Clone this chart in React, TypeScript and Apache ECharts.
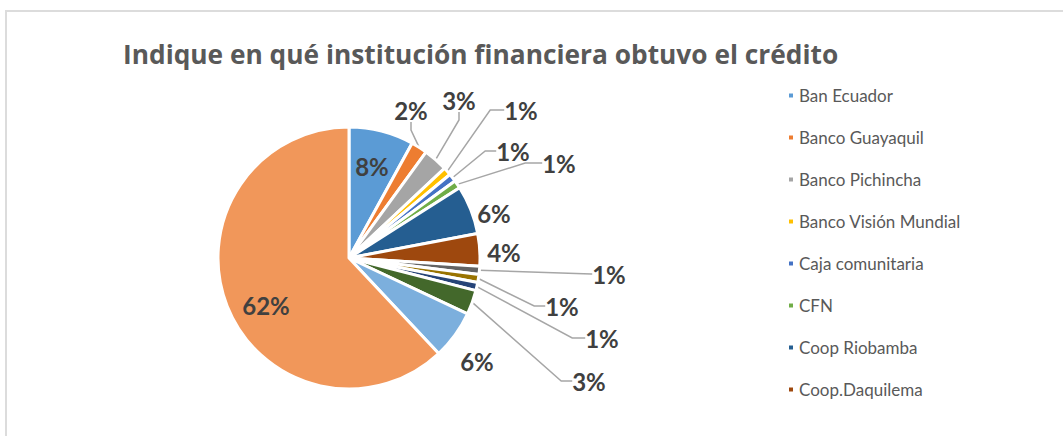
import React, { useEffect, useRef } from 'react';
import * as echarts from 'echarts';

const chartTitle = 'Indique en qué institución financiera obtuvo el crédito';
const categories = [
  'Ban Ecuador',
  'Banco Guayaquil',
  'Banco Pichincha',
  'Banco Visión Mundial',
  'Caja comunitaria',
  'CFN',
  'Coop Riobamba',
  'Coop.Daquilema',
  'Coop. Minga',
  'Coop. San Jorge',
  'Fundación Espoir',
  'Mutualista Pichincha',
  'Otra institución',
  'Ninguna',
];
const values = [8, 2, 3, 1, 1, 1, 6, 4, 1, 1, 1, 3, 6, 62];
const colors = [
  '#5B9BD5', '#ED7D31', '#A5A5A5', '#FFC000', '#4472C4', '#70AD47', '#255E91',
  '#9E480E', '#636363', '#997300', '#264478', '#43682B', '#7CAFDD', '#F1975A',
];
// legend shows only the first eight entries (it is clipped in the original)
const legendNames = categories.slice(0, 8);

// styling / layout helpers (not data)
const CX = 349;
const CY = 258;
const insideLabel = [true, false, false, false, false, false, false, false, false, false, false, false, false, true];
const showLeader = [false, true, true, true, true, true, false, false, true, true, true, true, false, false];
const leaderTail = [0, 8, 8, 14, 11, 17, 0, 0, 1, 11, 13, 11, 0, 0];
// label centre offsets from the pie centre
const labelOffset: [number, number][] = [
  [23, -95], [62, -151], [110, -161], [172, -151], [164, -110], [210, -98], [145, -48],
  [155, -9], [260, 13], [213, 45], [253, 77], [240, 120], [128, 100], [-83, 44],
];

export default function App() {
  const ref = useRef<HTMLDivElement>(null);
  useEffect(() => {
    if (!ref.current) return;
    const chart = echarts.init(ref.current, undefined, { renderer: 'svg' });
    const option: any = {
      animation: false,
      backgroundColor: '#ffffff',
      title: {
        text: chartTitle,
        left: 123,
        top: 41,
        padding: 0,
        textStyle: { fontFamily: 'Open Sans', fontWeight: 'bold', fontSize: 26.3, color: '#595959' },
      },
      legend: {
        orient: 'vertical',
        left: 787,
        top: 82,
        padding: 0,
        itemGap: 15,
        itemWidth: 6,
        itemHeight: 6,
        icon: 'rect',
        data: legendNames,
        selectedMode: false,
        textStyle: {
          fontFamily: 'Lato',
          fontSize: 17,
          lineHeight: 17,
          color: '#595959',
          padding: [0, 0, 10, 0],
        },
      },
      graphic: [
        {
          type: 'rect',
          shape: { x: 6, y: 11, width: 1100, height: 500 },
          style: { fill: 'none', stroke: '#dcdcdc', lineWidth: 2 },
          silent: true,
        },
      ],
      series: [
        {
          type: 'pie',
          center: [CX, CY],
          radius: 131,
          startAngle: 90,
          clockwise: true,
          avoidLabelOverlap: false,
          itemStyle: { borderColor: '#ffffff', borderWidth: 3 },
          label: {
            fontFamily: 'Lato',
            fontWeight: 'bold',
            fontSize: 24,
            color: '#404040',
            padding: [0, 3, 6, 3],
            formatter: (p: any) => Math.round(p.percent) + '%',
          },
          labelLine: {
            lineStyle: { color: '#a6a6a6', width: 1.5 },
            minTurnAngle: 0,
          },
          labelLayout: (p: any) => {
            const o = labelOffset[p.dataIndex];
            return {
              x: CX + o[0],
              y: CY + o[1] + 3,
              align: 'center',
              verticalAlign: 'middle',
            };
          },
          data: categories.map((name, i) => ({
            name,
            value: values[i],
            itemStyle: { color: colors[i] },
            label: { position: insideLabel[i] ? 'inside' : 'outside' },
            labelLine: { show: showLeader[i], length: 10, length2: leaderTail[i] },
          })),
        },
      ],
    };
    chart.setOption(option);
    return () => chart.dispose();
  }, []);
  return (
    <div
      ref={ref}
      style={{ position: 'fixed', left: 0, top: 0, width: 1063, height: 436, background: '#fff' }}
    />
  );
}
